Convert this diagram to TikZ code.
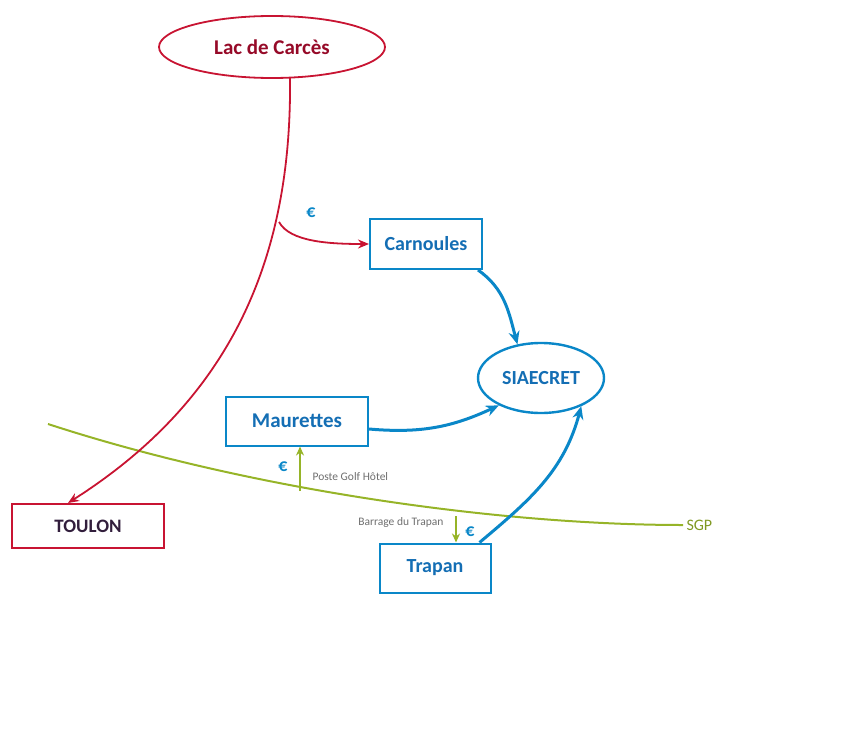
\documentclass[tikz,border=0pt]{standalone}
\usepackage{fontspec}
\setmainfont{Carlito}
\usetikzlibrary{arrows.meta,shapes.geometric}
\definecolor{cred}{RGB}{200,20,50}
\definecolor{cdred}{RGB}{150,10,40}
\definecolor{cblue}{RGB}{10,135,200}
\definecolor{ctxtblue}{RGB}{20,110,180}
\definecolor{cgreen}{RGB}{150,180,40}
\definecolor{cgtxt}{RGB}{110,110,110}
\tikzset{
  redell/.style={ellipse, draw=cred, line width=1.8pt, minimum width=226pt, minimum height=62pt, font=\fontsize{21}{24}\selectfont\bfseries, text=cdred},
  bluebox/.style={rectangle, draw=cblue, line width=2pt, font=\fontsize{20}{24}\selectfont\bfseries, text=ctxtblue},
  blueell/.style={ellipse, draw=cblue, line width=2.4pt, minimum width=126pt, minimum height=70pt, font=\fontsize{20}{24}\selectfont\bfseries, text=ctxtblue},
  redbox/.style={rectangle, draw=cred, line width=2pt, minimum width=152pt, minimum height=44pt, font=\fontsize{19}{22}\selectfont\bfseries, text={rgb,255:red,50;green,30;blue,60}},
  redline/.style={draw=cred, line width=1.8pt, -{Stealth[length=11pt,width=9pt]}},
  blueline/.style={draw=cblue, line width=3pt, -{Stealth[length=13pt,width=11pt]}},
  greenline/.style={draw=cgreen, line width=2pt},
  greenarrow/.style={draw=cgreen, line width=2pt, -{Stealth[length=9pt,width=8pt]}},
  euro/.style={font=\fontsize{18}{20}\selectfont\bfseries, text=cblue},
  smalllbl/.style={font=\fontsize{11.5}{12}\selectfont, text=cgtxt}
}
\begin{document}
\begin{tikzpicture}[x=1pt,y=-1pt]
\useasboundingbox (0,0) rectangle (861,733);
% nodes
\node[redell] (lac) at (272,47) {Lac de Carcès};
\node[bluebox, minimum width=112pt, minimum height=50pt] (carn) at (426,244) {Carnoules};
\node[blueell] (siae) at (541,378) {SIAECRET};
\node[bluebox, minimum width=142pt, minimum height=49pt, font=\fontsize{21}{24}\selectfont\bfseries] (maur) at (297,421) {Maurettes};
\node[redbox] (toul) at (88,526) {TOULON};
\node[bluebox, minimum width=111pt, minimum height=49pt] (trap) at (435,568) {Trapan};
% green SGP line
\coordinate (gs) at (48,424);
\coordinate (ge) at (683,525);
\draw[greenline] (gs) .. controls (250,490) and (500,525) .. (ge);
\node[font=\fontsize{16}{18}\selectfont, text=cgreen!85!black, anchor=west] (sgp) at (ge) {SGP};
% red main line
\coordinate (rs) at (290,78);
\coordinate (rt) at (68,503);
\draw[redline] (rs) .. controls (292,260) and (230,400) .. (rt);
\coordinate (rb) at (279,222);
\draw[redline] (rb) .. controls (290,242) and (330,244) .. (carn.west);
\node[euro] (e1) at (311,213) {€};
% blue arrows
\draw[blueline] (carn.south east) ++(-5,0) coordinate (c1) to[out=-35,in=105] (siae.125);
\draw[blueline] (maur.east) ++(0,8) coordinate (m1) to[out=-5,in=205] (siae.213);
\draw[blueline] (trap.north east) ++(-12,0) coordinate (t1) to[out=40,in=-105] (siae.-35);
% green arrows
\coordinate (gp) at (300,491);
\draw[greenarrow] (gp) -- (gp |- maur.south);
\node[euro] (e2) at (283,467) {€};
\node[smalllbl, anchor=west] (poste) at (309,477) {Poste Golf Hôtel};
\coordinate (gb) at (456,516);
\draw[greenarrow] (gb) -- (gb |- trap.north);
\node[euro] (e3) at (470,532) {€};
\node[smalllbl, anchor=east] (barr) at (447,522) {Barrage du Trapan};
\end{tikzpicture}
\end{document}
